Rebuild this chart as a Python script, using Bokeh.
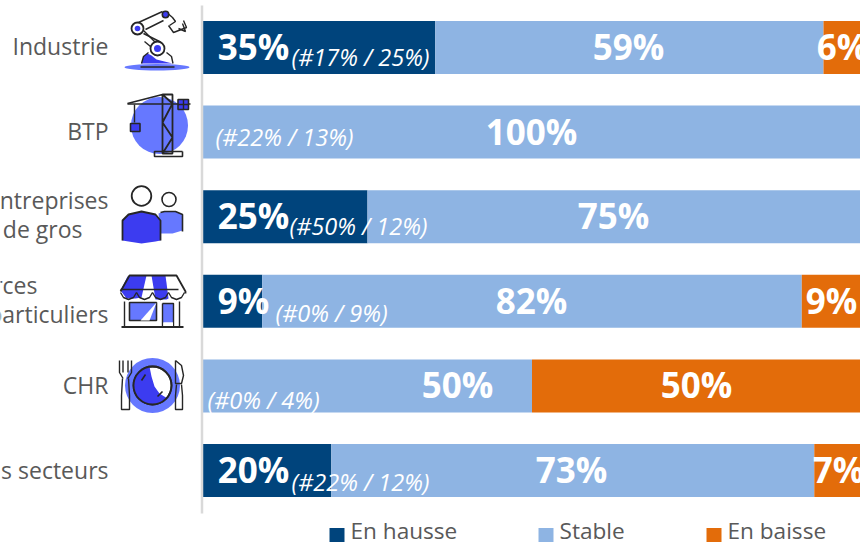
from bokeh.plotting import figure
from bokeh.models import Range1d
from bokeh.embed import file_html
from bokeh.resources import INLINE
from bokeh.core.properties import value

sectors = ["Industrie", "BTP", "Entreprises de gros", "Commerces services aux particuliers", "CHR", "Tous secteurs"]
hausse = [35.3, 0, 25, 9, 0, 19.5]
stable = [59, 100, 75, 82, 50, 73.4]
baisse = [5.7, 0, 0, 9, 50, 7.1]
notes = ["(#17% / 25%)", "(#22% / 13%)", "(#50% / 12%)", "(#0% / 9%)", "(#0% / 4%)", "(#22% / 12%)"]
series_names = ["En hausse", "Stable", "En baisse"]

DARK, LIGHT, ORANGE = "#00447C", "#8EB4E3", "#E36C0A"
BLUE, BLUE2, INK, GREY = "#3C3CF0", "#6678FF", "#262626", "#595959"
W, H = 860, 542
X0, PX = 202.5, 6.58
Y0, PITCH, BAR = 47, 84.6, 53
SANS = value("Open Sans")

p = figure(width=W, height=H, output_backend="svg", toolbar_location=None,
           x_range=Range1d(-X0 / PX, (W - X0) / PX),
           y_range=Range1d((H - Y0) / PITCH, -Y0 / PITCH),
           min_border=0, outline_line_color=None, x_axis_type=None, y_axis_type=None)
p.grid.visible = False
p.extra_x_ranges["px"] = Range1d(0, W)
p.extra_y_ranges["px"] = Range1d(H, 0)
PXR = dict(x_range_name="px", y_range_name="px")

# bars
ys = list(range(len(sectors)))
l1 = hausse
l2 = [a + b for a, b in zip(hausse, stable)]
l3 = [a + b for a, b in zip(l2, baisse)]
hw = BAR / PITCH
p.hbar(y=ys, left=[0] * 6, right=l1, height=hw, color=DARK, line_color=None)
p.hbar(y=ys, left=l1, right=l2, height=hw, color=LIGHT, line_color=None)
p.hbar(y=ys, left=l2, right=l3, height=hw, color=ORANGE, line_color=None)

# axis line
p.line([201.5, 201.5], [5, 513], line_color="#D9D9D9", line_width=2.5, **PXR)


def text(x, y, s, size, color="white", align="center", style="normal", font=SANS):
    p.text([x], [y], text=[s], text_font=font, text_font_size=f"{size}px", text_color=color,
           text_align=align, text_baseline="middle", text_font_style=style, **PXR)


# category labels
for x, y, s in [(108, 45, "Industrie"), (108, 130, "BTP"), (108, 199, "Entreprises"), (82, 228, "de gros"),
                (37, 284, "Commerces"), (108, 313, "services aux particuliers"),
                (108, 384, "CHR"), (108, 469, "Tous secteurs")]:
    text(x, y, s, 23, GREY, "right")

# value labels (some were moved off the bar centre in the original)
hausse_x = [253, None, 253, 243, None, 253]
stable_x = [628, 531, 613, 531, 457, 571]
baisse_x = [842, None, None, 831, 696, 838]
for i in ys:
    y = Y0 + PITCH * i - 1
    if hausse[i]:
        text(hausse_x[i], y, f"{round(hausse[i])}%", 35, style="bold")
    text(stable_x[i], y, f"{round(stable[i])}%", 35, style="bold")
    if baisse[i]:
        text(baisse_x[i], y, f"{round(baisse[i])}%", 35, style="bold")

# notes
note_x = [291, 215, 289, 275, 207, 291]
note_y = [56, 136, 225, 312, 399, 481]
for x, y, s in zip(note_x, note_y, notes):
    text(x, y, s, 23.5, align="left", style="italic")

# legend
for x, s, c in zip([329, 538, 706], series_names, [DARK, LIGHT, ORANGE]):
    p.quad(left=[x], right=[x + 15], top=[527.5], bottom=[543], color=c, line_color=None, **PXR)
    text(x + 21, 530, s, 22.6, GREY, "left")


# icons
def ln(xs, ys_, w=1.4, c=INK):
    p.line(xs, ys_, line_color=c, line_width=w, **PXR)


def blob(xs, ys_, c, lc=None):
    p.patch(xs, ys_, fill_color=c, line_color=lc, line_width=1.4, **PXR)


def circ(x, y, r, fill, lc=INK, w=1.4):
    p.circle([x], [y], radius=r, fill_color=fill, line_color=lc, line_width=w, **PXR)


# robot arm
p.ellipse([156.5], [66.7], width=65, height=6.5, color=BLUE2, line_color=None, **PXR)
blob([141, 143, 147, 151, 156, 164, 172, 141], [63, 56, 53, 55, 59, 61, 63, 63], BLUE)
ln([141, 143, 148], [63, 56, 52])
ln([166, 171, 172.5], [52, 56, 63])
ln([140, 174], [66.5, 66.5], 1.6)
ln([137, 157], [24, 44]); ln([143, 159], [33, 41])
ln([138, 162], [22, 11]); ln([145, 163], [29, 20])
ln([165, 172, 175, 169], [11, 17, 21, 25]); ln([168, 173, 186, 183], [25, 32, 27, 20]); ln([178, 185, 182], [28, 31, 23])
ln([144, 150], [41, 46])
circ(137, 28, 6, "white", INK, 1.8); circ(137, 28, 2.8, BLUE, None)
circ(157, 48, 7, "white", INK, 1.8); circ(157, 48, 3.5, BLUE, None)
circ(165, 14, 3.2, BLUE, INK, 1.6)

# crane
circ(159, 125, 28.5, BLUE2, None)
ln([127, 190], [103.5, 103.5], 1.6)
ln([127, 162, 172, 172, 162, 162, 172, 162, 172, 162], [103, 94, 94, 153, 153, 94, 103, 122, 137, 153], 1.8)
ln([134, 134], [104, 122], 1.4)
p.quad(left=[130], right=[139.5], top=[123], bottom=[131], fill_color=BLUE, line_color=INK, line_width=1.6, **PXR)
p.quad(left=[177.5], right=[188], top=[99], bottom=[109], fill_color=BLUE, line_color=INK, line_width=1.6, **PXR)
ln([183, 183], [99, 109]); ln([177.5, 188], [104, 104])
ln([182, 154, 154, 182, 182], [151, 151, 156, 156, 151], 1.6)

# people
circ(141, 195.5, 9.8, "white", INK, 1.8)
circ(168.5, 199, 7, "white", INK, 1.6)
blob([158, 164, 175, 182, 182, 172, 160], [213, 211, 211, 214, 230, 233, 233], BLUE2)
ln([160, 164, 175, 182, 182], [212, 211, 211, 214, 231], 1.6)
blob([122, 122, 128, 141, 155, 160, 160, 155, 141, 128], [240, 220, 214, 211, 214, 220, 240, 241, 243, 241], BLUE)
ln([122, 122, 128, 141, 155, 160, 160], [240, 220, 214, 211, 214, 220, 240], 1.8)

# shop
blob([127, 134, 146, 141, 135, 126, 120], [276, 275, 275, 297, 298, 298, 290], BLUE)
blob([151, 165, 168, 166, 155], [275, 275, 298, 299, 299], BLUE)
ln([120, 129, 176, 185, 185], [291, 275, 275, 291, 293], 1.8)
ln([120, 178], [289, 289], 1.4)
for a in [120, 136, 152, 168]:
    ln([a, a + 3, a + 8, a + 13, a + 16 if a < 168 else 184], [292, 297, 299, 297, 292])
p.quad(left=[129], right=[156], top=[302], bottom=[320], fill_color=BLUE2, line_color=INK, line_width=1.6, **PXR)
blob([140, 156, 156, 149], [320, 302, 302, 320], "white")
p.quad(left=[162], right=[173], top=[303], bottom=[322], fill_color=BLUE2, line_color=None, **PXR)
ln([162, 173, 173], [303, 303, 326]); ln([162, 162], [303, 326])
p.quad(left=[163], right=[172.5], top=[322], bottom=[326], fill_color="white", line_color=None, **PXR)
ln([124, 124], [301, 326]); ln([179, 179], [301, 326])
ln([121, 183], [326.5, 326.5], 1.8)

# plate
circ(152, 385, 27.5, BLUE2, None)
circ(152, 385, 19, "white", INK, 1.8)
blob([149, 142, 136, 133, 136, 142, 150, 160, 167, 159, 154, 151], [366, 368, 373, 385, 397, 402, 404, 402, 398, 393, 386, 376], BLUE)
circ(152, 385, 19, None, INK, 1.8)
ln([141, 145], [380, 374], 1.6); ln([157, 162], [396, 391], 1.6)
ln([119, 119, 122, 122.5], [360, 372, 377, 378]); ln([131, 131, 128, 127], [360, 372, 377, 378])
ln([122.5, 122.5], [360, 372]); ln([127.5, 127.5], [360, 372])
ln([122, 121, 121, 129, 129, 128], [378, 395, 409, 409, 395, 378])
ln([175, 175, 181, 183, 181, 175], [360, 383, 383, 375, 365, 360]); ln([176, 175, 175, 182, 182, 181], [384, 395, 409, 409, 395, 384])

html = file_html(p, INLINE).replace("<head>", "<head><style>html,body{margin:0;padding:0;overflow:hidden}</style>", 1)
open("out.html", "w").write(html)
